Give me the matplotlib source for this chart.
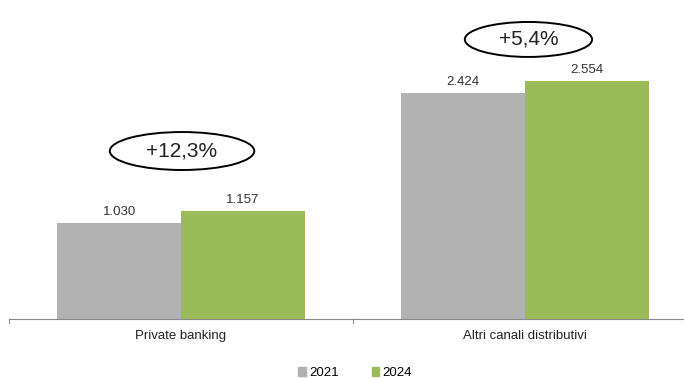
import matplotlib
matplotlib.use("Agg")
import matplotlib.pyplot as plt
from matplotlib.patches import Ellipse, Patch
import numpy as np

plt.rcParams['font.family'] = ['Liberation Sans', 'DejaVu Sans']

categories = ["Private banking", "Altri canali distributivi"]
series_names = ["2021", "2024"]
values_2021 = [1030, 2424]
values_2024 = [1157, 2554]
growth_labels = ["+12,3%", "+5,4%"]

colors = ["#b2b2b2", "#9bbb59"]

W, H = 684, 379
fig = plt.figure(figsize=(W/100, H/100), dpi=100)
ax_left, ax_bottom_px = 9, 319
ax = fig.add_axes([ax_left/W, (H-ax_bottom_px)/H, (W-ax_left)/W, ax_bottom_px/H])

ymax = 3420
ax.set_ylim(0, ymax)
ax.set_xlim(-0.5, -0.5 + (W-ax_left)/344)

x = np.arange(len(categories))
bw = 0.36
b1 = ax.bar(x - bw/2, values_2021, bw, color=colors[0], label=series_names[0])
b2 = ax.bar(x + bw/2, values_2024, bw, color=colors[1], label=series_names[1])

def fmt(v):
    return f"{v:,}".replace(",", ".")

for bars, vals in [(b1, values_2021), (b2, values_2024)]:
    for r, v in zip(bars, vals):
        ax.annotate(fmt(v), (r.get_x() + r.get_width()/2, v), xytext=(0, 3.5),
                    textcoords="offset points", ha="center", va="bottom",
                    fontsize=9.5, color="#333333")

# growth ellipses
ell_pos = [(0.003, 1801, 0.42, 407), (1.01, 2997, 0.37, 375)]
for (cx, cy, w, h), lab in zip(ell_pos, growth_labels):
    ax.add_patch(Ellipse((cx, cy), w, h, fill=False, edgecolor="black", lw=1.4, clip_on=False))
    ax.text(cx, cy, lab, ha="center", va="center", fontsize=15, color="#222222")

for s in ["top", "right", "left"]:
    ax.spines[s].set_visible(False)
ax.spines["bottom"].set_color("#888888")
ax.spines["bottom"].set_linewidth(0.8)
ax.set_yticks([])
ax.set_xticks(x)
ax.set_xticklabels(categories, fontsize=9.5, color="#222222")
ax.tick_params(axis="x", length=0, pad=8)
for xt in [-0.5, 0.5]:
    ax.plot([xt, xt], [0, -0.012*ymax], color="#888888", lw=0.8, clip_on=False)

handles = [Patch(color=colors[0], label=series_names[0]), Patch(color=colors[1], label=series_names[1])]
fig.legend(handles=handles, loc="center", bbox_to_anchor=(355/W, 1 - 373/H), ncol=2,
           frameon=False, fontsize=9.5, handlelength=0.6, handleheight=0.6,
           handletextpad=0.2, columnspacing=2.5)

fig.savefig("out.png", dpi=100, facecolor="white")
